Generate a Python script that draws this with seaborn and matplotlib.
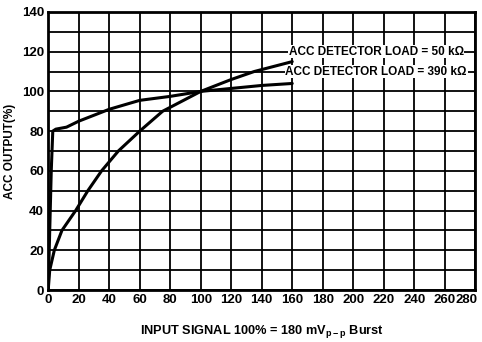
import matplotlib
matplotlib.use("Agg")
import matplotlib.pyplot as plt
import matplotlib.transforms as mtransforms
import seaborn as sns
import pandas as pd

# Data
x_50k = [0, 1, 4, 9, 18, 26, 35, 46, 60, 75, 100, 120, 135, 160]
y_50k = [0, 10, 20, 30, 40, 50, 60, 70, 80, 90, 100, 106, 110, 115]

x_390k = [0, 1, 2, 3, 5, 12, 20, 40, 60, 80, 100, 120, 140, 160]
y_390k = [0, 30, 60, 80, 81, 82, 85, 91, 95.5, 97.5, 100, 101.5, 103, 104]

x_ticks = list(range(0, 281, 20))
y_ticks = list(range(0, 141, 20))
label_50k = "ACC DETECTOR LOAD = 50 k\u03a9"
label_390k = "ACC DETECTOR LOAD = 390 k\u03a9"

df = pd.concat([
    pd.DataFrame({"x": x_50k, "y": y_50k, "load": "50k"}),
    pd.DataFrame({"x": x_390k, "y": y_390k, "load": "390k"}),
])

sns.set_style("white")
plt.rcParams["font.family"] = ["Liberation Sans", "DejaVu Sans"]
plt.rcParams["text.color"] = "black"
plt.rcParams["axes.labelcolor"] = "black"
plt.rcParams["xtick.color"] = "black"
plt.rcParams["ytick.color"] = "black"
plt.rcParams["mathtext.fontset"] = "custom"
plt.rcParams["mathtext.bf"] = "Liberation Sans:bold"

fig = plt.figure(figsize=(4.82, 3.42), dpi=100)
ax = fig.add_axes([0.1, 0.152, 0.886, 0.813])

sns.lineplot(data=df, x="x", y="y", units="load", estimator=None,
             color="black", linewidth=2.2, sort=False, ax=ax)

ax.set_xlim(0, 280)
ax.set_ylim(0, 140)
ax.set_xticks(x_ticks)
ax.set_yticks(y_ticks)
ax.set_yticks(range(0, 141, 10), minor=True)
ax.grid(which="both", color="black", linewidth=1.3)
ax.tick_params(which="both", length=0, labelsize=9.5, pad=3)
for lab in ax.get_xticklabels() + ax.get_yticklabels():
    lab.set_fontweight("bold")
# nudge the last x label inward so it stays inside the figure
last = ax.get_xticklabels()[-1]
last.set_transform(last.get_transform()
                   + mtransforms.ScaledTranslation(-6 / 72, 0, fig.dpi_scale_trans))
for s in ax.spines.values():
    s.set_color("black")
    s.set_linewidth(2)

ax.text(215, 120, label_50k, ha="center", va="center", fontsize=8.5,
        fontweight="bold", bbox=dict(facecolor="white", edgecolor="none", pad=0.5))
ax.text(215, 110, label_390k, ha="center", va="center", fontsize=8.5,
        fontweight="bold", bbox=dict(facecolor="white", edgecolor="none", pad=0.5))

ax.set_ylabel("ACC OUTPUT(%)", fontsize=8.5, fontweight="bold", labelpad=4)
ax.set_xlabel(r"INPUT SIGNAL 100% = 180 mV$_{\mathbf{p-p}}$ Burst",
              fontsize=9.2, fontweight="bold", labelpad=12)

fig.savefig("out.png", dpi=100)
